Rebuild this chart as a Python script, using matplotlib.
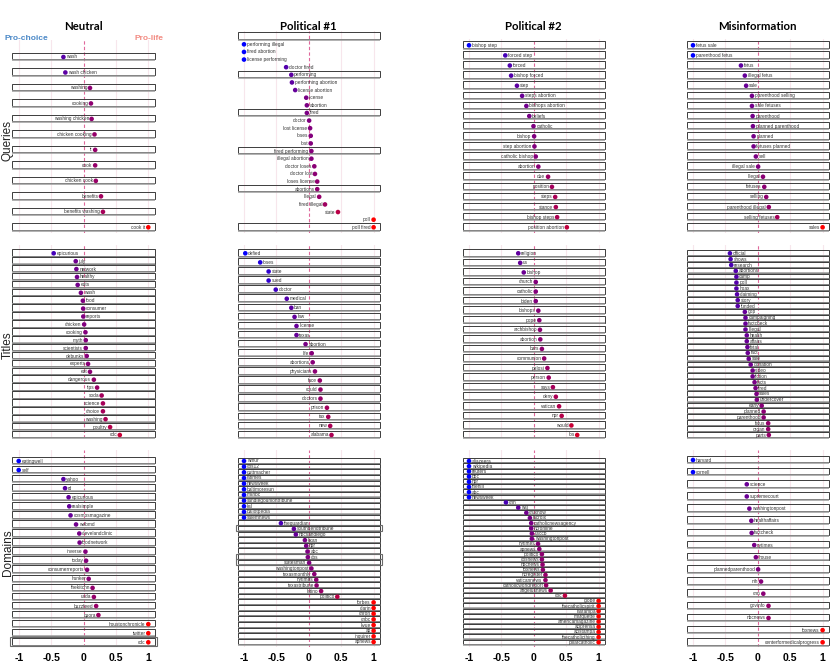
import numpy as np
import matplotlib
matplotlib.use("Agg")
import matplotlib.pyplot as plt
from matplotlib.patches import Rectangle

plt.rcParams["font.family"] = ["Liberation Sans", "DejaVu Sans"]

# ---- data: queries ----
neutral_query_labels = ["wash", "wash chicken", "washing", "cooking", "washing chicken",
                        "chicken cooking", "it", "cook", "chicken cook", "benefits",
                        "benefits washing", "cook it"]
neutral_query_values = [-0.31, -0.28, 0.10, 0.115, 0.125, 0.17, 0.18, 0.18, 0.19, 0.27, 0.30, 1.0]

pol1_query_labels = ["", "performing illegal", "fired abortion", "license performing", "doctor fired",
                     "performing", "performing abortion", "license abortion", "license", "abortion",
                     "fired", "doctor", "lost license", "loses", "lost", "fired performing",
                     "illegal abortion", "doctor loses", "doctor lost", "loses license", "abortions",
                     "illegal", "fired illegal", "state", "poll", "poll fired"]
pol1_query_values = [np.nan, -1.0, -1.0, -1.0, -0.35, -0.27, -0.26, -0.21, -0.04, -0.03,
                     -0.03, 0.005, 0.02, 0.03, 0.03, 0.04, 0.04, 0.085, 0.095, 0.13, 0.13,
                     0.16, 0.25, 0.45, 1.0, 1.0]

pol2_query_labels = ["bishop step", "forced step", "forced", "bishop forced", "step", "steps abortion",
                     "bishops abortion", "beliefs", "catholic", "bishop", "step abortion",
                     "catholic bishop", "abortion", "due", "position", "steps", "stance",
                     "bishop steps", "position abortion"]
pol2_query_values = [-1.0, -0.44, -0.37, -0.35, -0.26, -0.18, -0.115, -0.07, -0.005, 0.005, 0.01,
                     0.03, 0.07, 0.22, 0.28, 0.33, 0.34, 0.36, 0.51]

misinfo_query_labels = ["fetus sale", "parenthood fetus", "fetus", "illegal fetus", "sale",
                        "parenthood selling", "sale fetuses", "parenthood", "planned parenthood",
                        "planned", "fetuses planned", "sell", "illegal sale", "illegal", "fetuses",
                        "selling", "parenthood illegal", "selling fetuses", "sales"]
misinfo_query_values = [-1.0, -1.0, -0.26, -0.20, -0.18, -0.09, -0.09, -0.08, -0.075, -0.065,
                        -0.065, -0.03, 0.005, 0.08, 0.10, 0.13, 0.17, 0.30, 1.0]

# ---- data: titles ----
neutral_title_labels = ["epicurious", "july", "network", "healthy", "eats", "wash", "food",
                        "consumer", "reports", "chicken", "cooking", "myth", "scientists", "debunks",
                        "experts", "eat", "dangerous", "tips", "soda", "science", "choice",
                        "washing", "poultry", "cdc"]
neutral_title_values = [-0.46, -0.12, -0.11, -0.10, -0.09, -0.04, -0.01, -0.005, -0.003, 0.01,
                        0.03, 0.035, 0.035, 0.05, 0.07, 0.10, 0.16, 0.21, 0.28, 0.30, 0.30,
                        0.34, 0.41, 0.56]

pol1_title_labels = ["defied", "loses", "state", "sued", "doctor", "medical", "ban", "law",
                     "license", "texas", "abortion", "life", "abortions", "physicians", "face",
                     "could", "doctors", "prison", "tax", "new", "alabama"]
pol1_title_values = [-0.98, -0.75, -0.62, -0.62, -0.51, -0.34, -0.27, -0.22, -0.19, -0.19,
                     -0.05, 0.045, 0.06, 0.095, 0.17, 0.18, 0.18, 0.28, 0.30, 0.33, 0.35]

pol2_title_labels = ["religion", "us", "bishop", "church", "catholic", "biden", "bishops", "pope",
                     "archbishop", "abortion", "bars", "communion", "pelosi", "person", "says",
                     "deny", "vatican", "npr", "would", "los"]
pol2_title_values = [-0.24, -0.21, -0.155, 0.03, 0.03, 0.03, 0.07, 0.085, 0.095, 0.10, 0.125,
                     0.16, 0.21, 0.23, 0.295, 0.34, 0.39, 0.43, 0.58, 0.67]

misinfo_title_labels = ["official", "shows", "research", "abortions", "camp", "poll", "hoax",
                        "claiming", "story", "funded", "gop", "campaigning", "factcheck", "illegal",
                        "health", "affairs", "fetal", "fact", "sale", "donation", "video",
                        "fiction", "facts", "fired", "sales", "undercover", "early", "planned",
                        "parenthood", "fetus", "organ", "parts"]
misinfo_title_values = [-0.43, -0.42, -0.41, -0.34, -0.33, -0.33, -0.33, -0.32, -0.31, -0.31,
                        -0.20, -0.19, -0.19, -0.19, -0.17, -0.17, -0.16, -0.155, -0.14, -0.11,
                        -0.08, -0.08, -0.05, -0.035, -0.02, -0.015, 0.06, 0.09, 0.09, 0.16,
                        0.16, 0.17]

# ---- data: domains ----
neutral_domain_labels = ["eatingwell", "self", "yahoo", "rd", "epicurious", "realsimple",
                         "cosmosmagazine", "webmd", "clevelandclinic", "foodnetwork", "inverse",
                         "today", "consumerreports", "hunker", "thekitchn", "usda", "buzzfeed",
                         "quora", "houstonchronicle", "twitter", "cdc"]
neutral_domain_values = [-1.0, -1.0, -0.31, -0.285, -0.23, -0.22, -0.20, -0.115, -0.065, -0.06,
                         0.03, 0.04, 0.055, 0.08, 0.14, 0.16, 0.195, 0.23, 1.0, 1.0, 1.0]

pol1_domain_labels = ["wmur", "cbs12", "guttmacher", "latimes", "newsweek", "baltimoresun", "msnbc",
                      "sandiegouniontribune", "ksl", "ballotpedia", "salemnews", "theguardian",
                      "southbendtribune", "nbcsandiego", "kxan", "npr", "abc", "cbs", "statesman",
                      "washingtonpost", "texasmonthly", "nytimes", "texastribune", "latino",
                      "politico", "forbes", "clarin", "chron", "cnbc", "kvue", "ap", "inquirer",
                      "apnews"]
pol1_domain_values = [-1.0] * 11 + [-0.43, -0.23, -0.20, -0.06, -0.04, -0.02, -0.015, 0.005, 0.04,
                                    0.085, 0.115, 0.12, 0.19, 0.44] + [1.0] * 8

pol2_domain_labels = ["aljazeera", "wikipedia", "reuters", "bbc", "npr", "thehill", "abc",
                      "newsweek", "cnn", "wsj", "cruxnow", "lacroix", "catholicnewsagency",
                      "ncronline", "usccb", "washingtonpost", "nytimes", "apnews", "politico",
                      "cbsnews", "nbcnews", "foxnews", "ncregister", "vaticannews",
                      "catholicworldreport", "angelusnews", "cbc", "globe", "thecatholicspirit",
                      "lastampa", "marquette", "americamagazine", "aciprensa", "acistampa",
                      "thecatholicthing", "pillarcatholic"]
pol2_domain_values = [-1.0] * 8 + [-0.43, -0.24, -0.115, -0.06, -0.04, -0.04, -0.03, -0.03,
                                   0.065, 0.085, 0.125, 0.125, 0.135, 0.14, 0.18, 0.18, 0.19,
                                   0.26, 0.48] + [1.0] * 9

misinfo_domain_labels = ["harvard", "cornell", "science", "supremecourt", "washingtonpost",
                         "healthaffairs", "factcheck", "nytimes", "house", "plannedparenthood",
                         "nih", "cnn", "govinfo", "nbcnews", "foxnews", "centerformedicalprogress"]
misinfo_domain_values = [-1.0, -1.0, -0.17, -0.17, -0.13, -0.10, -0.095, -0.055, -0.03, 0.005,
                         0.05, 0.085, 0.165, 0.165, 1.0, 1.0]

column_titles = ["Neutral", "Political #1", "Political #2", "Misinformation"]
row_titles = ["Queries", "Titles", "Domains"]
tick_values = [-1, -0.5, 0, 0.5, 1]
tick_labels = ["-1", "-0.5", "0", "0.5", "1"]

panels = [
    [(neutral_query_labels, neutral_query_values), (pol1_query_labels, pol1_query_values),
     (pol2_query_labels, pol2_query_values), (misinfo_query_labels, misinfo_query_values)],
    [(neutral_title_labels, neutral_title_values), (pol1_title_labels, pol1_title_values),
     (pol2_title_labels, pol2_title_values), (misinfo_title_labels, misinfo_title_values)],
    [(neutral_domain_labels, neutral_domain_values), (pol1_domain_labels, pol1_domain_values),
     (pol2_domain_labels, pol2_domain_values), (misinfo_domain_labels, misinfo_domain_values)],
]

# ---- layout (pixels) ----
W, H = 830, 664
col_zero = [83.5, 308.8, 533.8, 757.8]
unit = 64.8
group_y = [(40, 233), (245, 438), (450, 647)]
row_span = [
    [(57, 227.3), (36.7, 227.3), (45.3, 227.3), (45.3, 227.3)],
    [(253.3, 435)] * 4,
    [(461, 642.3), (461, 642), (461, 642.3), (460, 642.3)],
]
boxed_rows = {(0, 1): [0, 5, 10, 15, 20, 25]}
highlight_rows = {(2, 0): [20], (2, 1): [12, 17, 18]}

fig = plt.figure(figsize=(W / 100, H / 100), dpi=100)


def bluered(v):
    t = (np.clip(v, -1, 1) + 1) / 2
    return (t, 0.0, 1 - t)


for r in range(3):
    for c in range(4):
        labels, values = panels[r][c]
        values = np.asarray(values, dtype=float)
        n = len(labels)
        first, last = row_span[r][c]
        top = min(group_y[r][0], first - 6)
        bottom = group_y[r][1]
        left = col_zero[c] - 1.1 * unit
        right = col_zero[c] + 1.1 * unit
        ax = fig.add_axes([left / W, 1 - bottom / H, (right - left) / W, (bottom - top) / H])
        step = (last - first) / (n - 1)
        ax.set_xlim(-1.1, 1.1)
        ax.set_ylim((n - 1) + (bottom - last) / step, -(first - top) / step)
        for s in ax.spines.values():
            s.set_visible(False)
        ax.set_yticks([])

        for gx in [-1, -0.5, 0.5, 1]:
            ax.axvline(gx, color="#f7e6ec", lw=0.8, zorder=0)
        ax.axvline(0, color="#e0689c", lw=0.8, ls=(0, (3, 2)), zorder=1)

        h_px = min(6.6, step - 1.0)
        h = h_px / step
        gap = 0.9 / step
        rows = boxed_rows.get((r, c), range(n))
        hl = highlight_rows.get((r, c), [])
        for i in rows:
            ax.add_patch(Rectangle((-1.1, i - 0.65 * h), 2.2, h, fill=False,
                                   ec="#3c3c3c", lw=0.7, zorder=2, clip_on=False))
            ax.plot([-1.1, 1.1], [i + 0.35 * h + gap] * 2, color="#9c9c9c", lw=1.1,
                    zorder=2, clip_on=False, solid_capstyle="butt")
        for i in hl:
            ax.add_patch(Rectangle((-1.13, i - 0.75 * h), 2.26, 1.25 * h, fill=False,
                                   ec="#6a6a6a", lw=0.8, zorder=2, clip_on=False))

        ys = np.arange(n)
        ok = ~np.isnan(values)
        ax.scatter(values[ok], ys[ok], c=[bluered(v) for v in values[ok]], s=11,
                   linewidths=0, zorder=4, clip_on=False)
        for i, (lab, v) in enumerate(zip(labels, values)):
            if np.isnan(v) or not lab:
                continue
            if v < 0:
                ax.annotate(lab, (v, i), xytext=(2.0, 0), textcoords="offset points",
                            ha="left", va="center", fontsize=3.4, color="#333333", zorder=5)
            else:
                ax.annotate(lab, (v, i), xytext=(-2.0, 0), textcoords="offset points",
                            ha="right", va="center", fontsize=3.4, color="#333333", zorder=5)

        if r == 2:
            ax.set_xticks(tick_values)
            ax.set_xticklabels(tick_labels, fontsize=7.5, fontweight="bold")
            ax.tick_params(axis="x", length=0, pad=4)
        else:
            ax.set_xticks([])

for c, title in enumerate(column_titles):
    fig.text(col_zero[c] / W, 1 - 26 / H, title, ha="center", va="center",
             fontsize=8.2, fontweight="bold", family=["Lato", "DejaVu Sans"])

for r, name in enumerate(row_titles):
    yc = (group_y[r][0] + group_y[r][1]) / 2 + 4
    fig.text(8 / W, 1 - yc / H, name, rotation=90, ha="center", va="center",
             fontsize=8.5, color="#222222")

fig.text(4 / W, 1 - 38 / H, "Pro-choice", ha="left", va="center", fontsize=6,
         fontweight="bold", color="#4a88c7")
fig.text(163 / W, 1 - 38 / H, "Pro-life", ha="right", va="center", fontsize=6,
         fontweight="bold", color="#f28b82")

fig.savefig("out.png", dpi=100)
